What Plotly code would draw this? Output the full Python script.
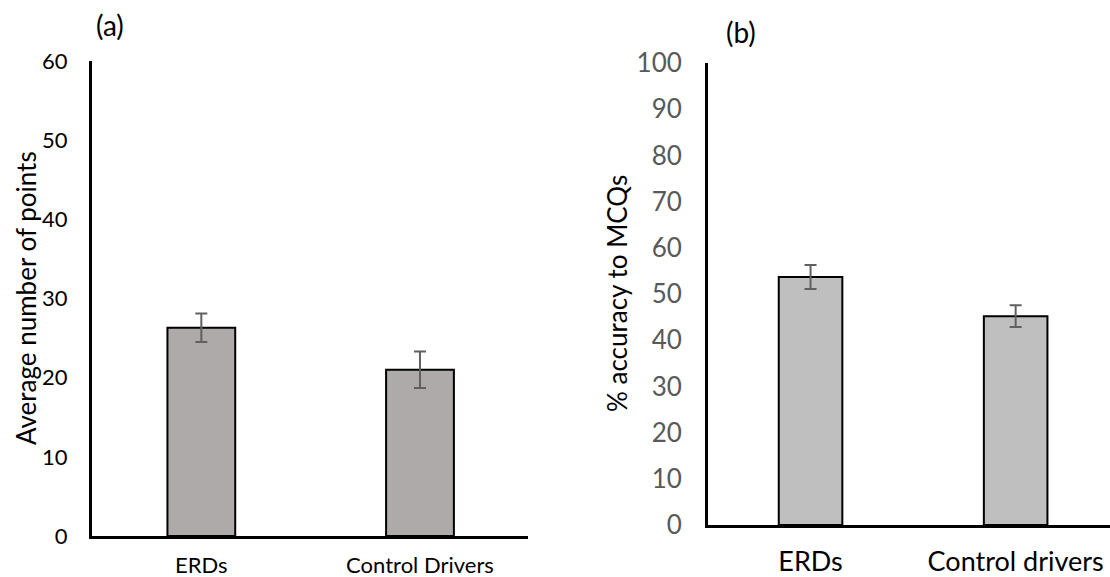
import plotly.graph_objects as go

W, H = 1110, 577

# ---- data ----
cats_a = ["ERDs", "Control Drivers"]
vals_a = [26.3, 21.0]
err_a = [1.8, 2.3]

cats_b = ["ERDs", "Control drivers"]
vals_b = [53.7, 45.2]
err_b = [2.6, 2.35]

ticks_a = [0, 10, 20, 30, 40, 50, 60]
ticks_b = [0, 10, 20, 30, 40, 50, 60, 70, 80, 90, 100]

FONT = "Lato"


def fx(px):
    return px / W


def fy(py):
    return 1 - py / H


fig = go.Figure()

fig.add_trace(go.Bar(
    x=cats_a, y=vals_a, width=0.31,
    marker=dict(color="#AEAAAA", line=dict(color="black", width=2)),
    error_y=dict(type="data", array=err_a, color="#606060", thickness=2, width=6),
    xaxis="x", yaxis="y", showlegend=False, hoverinfo="skip",
))
fig.add_trace(go.Bar(
    x=cats_b, y=vals_b, width=0.31,
    marker=dict(color="#BFBFBF", line=dict(color="black", width=2)),
    error_y=dict(type="data", array=err_b, color="#606060", thickness=2, width=6),
    xaxis="x2", yaxis="y2", showlegend=False, hoverinfo="skip",
))

axis_common = dict(showgrid=False, zeroline=False, showline=True,
                   linecolor="black", linewidth=3, ticks="", automargin=False)

fig.update_layout(
    width=W, height=H,
    margin=dict(l=0, r=0, t=0, b=0, autoexpand=False),
    paper_bgcolor="white", plot_bgcolor="white",
    font=dict(family=FONT, color="black"),
    xaxis=dict(axis_common, domain=[fx(92), fx(528)], range=[-0.5, 1.494],
               anchor="y", tickfont=dict(size=22, color="black"),
               ticklabelstandoff=8),
    yaxis=dict(axis_common, domain=[fy(536), fy(61)], range=[0, 60],
               anchor="x", tickvals=ticks_a,
               tickfont=dict(size=22, color="black"), ticklabelstandoff=17),
    xaxis2=dict(axis_common, domain=[fx(708), 1.0], range=[-0.5, 1.46],
                anchor="y2", tickfont=dict(size=27, color="black"),
                ticklabelstandoff=11),
    yaxis2=dict(axis_common, domain=[fy(525), fy(63)], range=[0, 100],
                anchor="x2", tickvals=ticks_b,
                tickfont=dict(size=26, color="#595959"), ticklabelstandoff=18),
    annotations=[
        dict(text="(a)", x=fx(110), y=fy(25), xref="paper", yref="paper",
             showarrow=False, font=dict(size=28, color="black"),
             xanchor="center", yanchor="middle"),
        dict(text="(b)", x=fx(741), y=fy(32), xref="paper", yref="paper",
             showarrow=False, font=dict(size=28, color="black"),
             xanchor="center", yanchor="middle"),
        dict(text="Average number of points", x=fx(26), y=fy(298),
             xref="paper", yref="paper", showarrow=False, textangle=-90,
             font=dict(size=26, color="black"),
             xanchor="center", yanchor="middle"),
        dict(text="% accuracy to MCQs", x=fx(617), y=fy(294),
             xref="paper", yref="paper", showarrow=False, textangle=-90,
             font=dict(size=26, color="black"),
             xanchor="center", yanchor="middle"),
    ],
)

fig.write_html("out.html")
